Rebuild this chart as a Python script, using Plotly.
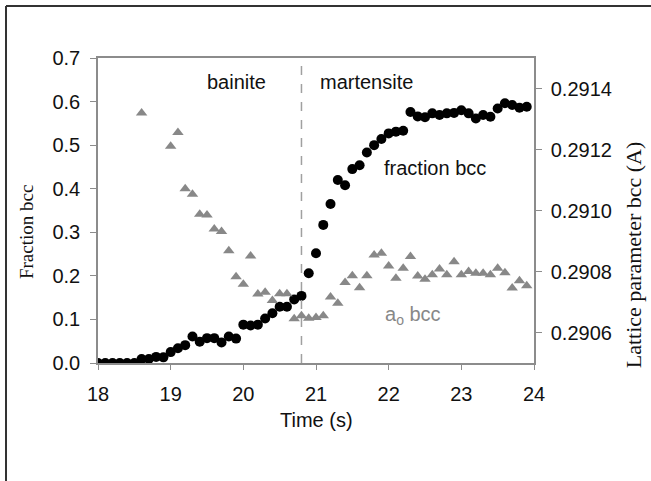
import plotly.graph_objects as go

# ---- data ----
time_fraction = [18.0, 18.1, 18.2, 18.3, 18.4, 18.5, 18.6, 18.7, 18.8, 18.9,
                 19.0, 19.1, 19.2, 19.3, 19.4, 19.5, 19.6, 19.7, 19.8, 19.9,
                 20.0, 20.1, 20.2, 20.3, 20.4, 20.5, 20.6, 20.7, 20.8, 20.9,
                 21.0, 21.1, 21.2, 21.3, 21.4, 21.5, 21.6, 21.7, 21.8, 21.9,
                 22.0, 22.1, 22.2, 22.3, 22.4, 22.5, 22.6, 22.7, 22.8, 22.9,
                 23.0, 23.1, 23.2, 23.3, 23.4, 23.5, 23.6, 23.7, 23.8, 23.9]
fraction_bcc = [0.0, 0.0, 0.0, 0.0, 0.0, 0.0, 0.009, 0.009, 0.014, 0.013,
                0.025, 0.034, 0.041, 0.061, 0.049, 0.057, 0.057, 0.047, 0.061, 0.056,
                0.088, 0.086, 0.088, 0.102, 0.114, 0.129, 0.129, 0.146, 0.154, 0.206,
                0.252, 0.317, 0.365, 0.420, 0.408, 0.445, 0.454, 0.483, 0.500, 0.514,
                0.527, 0.531, 0.533, 0.576, 0.566, 0.564, 0.573, 0.569, 0.573, 0.574,
                0.580, 0.573, 0.561, 0.569, 0.565, 0.584, 0.596, 0.592, 0.586, 0.588]

time_lattice = [18.6, 19.0, 19.1, 19.2, 19.3, 19.4, 19.5, 19.6, 19.7, 19.8, 19.9,
                20.0, 20.1, 20.2, 20.3, 20.4, 20.5, 20.6, 20.7, 20.8, 20.9,
                21.0, 21.1, 21.2, 21.3, 21.4, 21.5, 21.6, 21.7, 21.8, 21.9,
                22.0, 22.1, 22.2, 22.3, 22.4, 22.5, 22.6, 22.7, 22.8, 22.9,
                23.0, 23.1, 23.2, 23.3, 23.4, 23.5, 23.6, 23.7, 23.8, 23.9]
lattice_bcc = [0.291320, 0.291211, 0.291256, 0.291071, 0.291053, 0.290988, 0.290985,
               0.290939, 0.290931, 0.290868, 0.290783,
               0.290758, 0.290851, 0.290726, 0.290732, 0.290705, 0.290727, 0.290727,
               0.290645, 0.290655, 0.290647,
               0.290649, 0.290655, 0.290716, 0.290696, 0.290764, 0.290786, 0.290747,
               0.290786, 0.290854, 0.290860,
               0.290818, 0.290778, 0.290811, 0.290849, 0.290785, 0.290775, 0.290789,
               0.290808, 0.290789, 0.290832,
               0.290789, 0.290800, 0.290794, 0.290794, 0.290789, 0.290811, 0.290796,
               0.290746, 0.290770, 0.290753]

boundary_time = 20.8
x_ticks = [18, 19, 20, 21, 22, 23, 24]
y_ticks = [0.0, 0.1, 0.2, 0.3, 0.4, 0.5, 0.6, 0.7]
y2_ticks = [0.2906, 0.2908, 0.2910, 0.2912, 0.2914]

SANS = "Liberation Sans, Arial, sans-serif"
SERIF = "Liberation Serif, Times New Roman, serif"
AXIS_COLOR = "#8c8c8c"
TRI_COLOR = "#888888"
FS = 20

fig = go.Figure()
fig.add_trace(go.Scatter(x=time_fraction, y=fraction_bcc, mode="markers",
                         marker=dict(symbol="circle", size=10, color="#000000"),
                         name="fraction bcc", showlegend=False))
fig.add_trace(go.Scatter(x=time_lattice, y=lattice_bcc, mode="markers", yaxis="y2",
                         marker=dict(symbol="triangle-up", size=10, color=TRI_COLOR),
                         name="a0 bcc", showlegend=False))

fig.add_shape(type="line", xref="x", yref="y", x0=boundary_time, x1=boundary_time,
              y0=0, y1=0.7, line=dict(color="#a0a0a0", width=1.5, dash="dash"))

# outer frame (left and top edges)
fig.add_shape(type="line", xref="paper", yref="paper", x0=-0.211, x1=-0.211,
              y0=-0.45, y1=1.1705, line=dict(color="#333333", width=2))
fig.add_shape(type="line", xref="paper", yref="paper", x0=-0.211, x1=1.3,
              y0=1.1705, y1=1.1705, line=dict(color="#333333", width=2))

annots = [
    dict(x=19.9, y=0.645, xref="x", yref="y", text="bainite", showarrow=False,
         font=dict(family=SANS, size=FS, color="#111111")),
    dict(x=21.69, y=0.645, xref="x", yref="y", text="martensite", showarrow=False,
         font=dict(family=SANS, size=FS, color="#111111")),
    dict(x=22.64, y=0.447, xref="x", yref="y", text="fraction bcc", showarrow=False,
         font=dict(family=SANS, size=FS, color="#111111")),
    dict(x=22.33, y=0.11, xref="x", yref="y", text="a<sub>o</sub> bcc", showarrow=False,
         font=dict(family=SANS, size=FS, color="#888888")),
    dict(x=-0.165, y=0.4295, xref="paper", yref="paper", text="Fraction bcc",
         textangle=-90, showarrow=False, xanchor="center", yanchor="middle",
         font=dict(family=SERIF, size=19, color="#111111")),
    dict(x=1.229, y=0.356, xref="paper", yref="paper", text="Lattice parameter bcc (A)",
         textangle=-90, showarrow=False, xanchor="center", yanchor="middle",
         font=dict(family=SERIF, size=22, color="#111111")),
    dict(x=0.5, y=-0.187, xref="paper", yref="paper", text="Time (s)",
         showarrow=False, xanchor="center", yanchor="middle",
         font=dict(family=SANS, size=FS, color="#111111")),
]

fig.update_layout(
    width=651, height=481,
    margin=dict(l=98, r=117, t=58, b=118),
    paper_bgcolor="white", plot_bgcolor="white",
    font=dict(family=SANS, size=FS, color="#111111"),
    annotations=annots,
    xaxis=dict(range=[18, 24], tickvals=x_ticks, ticktext=[str(v) for v in x_ticks],
               showline=True, linecolor=AXIS_COLOR, linewidth=1.5, mirror=True,
               ticks="outside", ticklen=5, tickcolor=AXIS_COLOR, showgrid=False,
               zeroline=False, ticklabelstandoff=7),
    yaxis=dict(range=[0, 0.7], tickvals=y_ticks, tickformat=".1f",
               showline=True, linecolor=AXIS_COLOR, linewidth=1.5,
               ticks="outside", ticklen=6, tickcolor=AXIS_COLOR, showgrid=False,
               zeroline=False, ticklabelstandoff=6),
    yaxis2=dict(range=[0.2905, 0.2915], tickvals=y2_ticks, tickformat=".4f",
                overlaying="y", side="right",
                showline=True, linecolor=AXIS_COLOR, linewidth=1.5,
                ticks="outside", ticklen=6, tickcolor=AXIS_COLOR, showgrid=False,
                zeroline=False, ticklabelstandoff=5),
)

fig.write_html("out.html")
